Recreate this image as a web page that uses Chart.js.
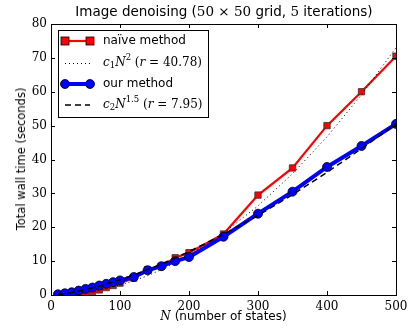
<!DOCTYPE html>
<html>
<head>
<meta charset="utf-8">
<script src="https://cdn.jsdelivr.net/npm/chart.js@4"></script>
<style>
  body { margin: 0; background: #fff; }
  #wrap { position: relative; width: 415px; height: 332px; }
  #chart { position: absolute; left: 0; top: 0; }
  .lbl { position: absolute; font-family: "DejaVu Sans", sans-serif; color: #000; white-space: nowrap; }
  .m { font-family: "DejaVu Serif", serif; }
  .mi { font-family: "DejaVu Serif", serif; font-style: italic; }
  #title { left: 0; width: 448px; top: 3px; text-align: center; font-size: 13.5px; }
  #xlab { left: 51px; width: 345px; top: 309px; text-align: center; font-size: 12px; }
  #ylab { left: 21px; top: 159px; font-size: 11.5px; transform: translate(-50%, -50%) rotate(-90deg); }
</style>
</head>
<body>
<div id="wrap">
  <canvas id="chart" width="415" height="332"></canvas>
  <div id="title" class="lbl">Image denoising (<span class="m">50 × 50</span> grid, <span class="m">5</span> iterations)</div>
  <div id="xlab" class="lbl"><span class="mi">N</span> (number of states)</div>
  <div id="ylab" class="lbl">Total wall time (seconds)</div>
</div>
<script>
// Data
const nStates = [10, 20, 30, 40, 50, 60, 70, 80, 90, 100, 120, 140, 160, 180, 200, 250, 300, 350, 400, 450, 500];
const naiveTimes = [0.05, 0.1, 0.2, 0.4, 0.7, 1.0, 1.5, 2.2, 2.8, 3.5, 5.0, 7.5, 8.5, 11.0, 12.5, 18.0, 29.5, 37.5, 50.0, 60.0, 70.5];
const ourTimes = [0.2, 0.5, 0.8, 1.3, 1.8, 2.2, 2.8, 3.3, 3.8, 4.3, 5.3, 7.3, 8.5, 10.0, 11.2, 17.2, 24.0, 30.5, 37.8, 44.0, 50.5];
// fitted curves c1*N^2 and c2*N^1.5 as drawn
const fitSquare = [0.03, 0.12, 0.26, 0.47, 0.73, 1.05, 1.43, 1.87, 2.37, 2.92, 4.2, 5.7, 7.5, 9.5, 11.7, 18.3, 26.3, 35.8, 46.7, 59.1, 73.0];
const fitPow15 = [0.14, 0.40, 0.74, 1.14, 1.6, 2.1, 2.65, 3.23, 3.86, 4.52, 5.94, 7.49, 9.15, 10.9, 12.8, 17.9, 23.5, 29.6, 36.2, 43.2, 50.5];
const xTicks = [0, 100, 200, 300, 400, 500];
const yTicks = [0, 10, 20, 30, 40, 50, 60, 70, 80];

const pts = ys => nStates.map((n, i) => ({ x: n, y: ys[i] }));

// Draw text made of several runs (for the math bits)
function drawRuns(ctx, x, y, runs) {
    runs.forEach(r => {
        ctx.font = r.font;
        ctx.fillText(r.t, x, y + (r.dy || 0));
        x += ctx.measureText(r.t).width;
    });
}

// inward ticks on all four sides plus the frame, like matplotlib
const framePlugin = {
    id: 'frame',
    afterDraw(chart) {
        const ctx = chart.ctx, a = chart.chartArea;
        const xs = chart.scales.x, ys = chart.scales.y;
        ctx.save();
        ctx.strokeStyle = '#000';
        ctx.lineWidth = 1;
        ctx.beginPath();
        xTicks.forEach(v => {
            const px = Math.round(xs.getPixelForValue(v)) + 0.5;
            ctx.moveTo(px, a.bottom); ctx.lineTo(px, a.bottom - 4);
            ctx.moveTo(px, a.top); ctx.lineTo(px, a.top + 4);
        });
        yTicks.forEach(v => {
            const py = Math.round(ys.getPixelForValue(v)) + 0.5;
            ctx.moveTo(a.left, py); ctx.lineTo(a.left + 4, py);
            ctx.moveTo(a.right, py); ctx.lineTo(a.right - 4, py);
        });
        ctx.stroke();
        ctx.strokeRect(Math.round(a.left) + 0.5, Math.round(a.top) + 0.5,
            Math.round(a.right - a.left), Math.round(a.bottom - a.top));
        ctx.restore();
    }
};

// legend box in the top left corner
const legendPlugin = {
    id: 'mplLegend',
    afterDraw(chart) {
        const ctx = chart.ctx;
        const bx = 58.5, by = 30.5, bw = 150, bh = 87;
        ctx.save();
        ctx.fillStyle = '#fff';
        ctx.fillRect(bx, by, bw, bh);
        ctx.strokeStyle = '#000';
        ctx.lineWidth = 1;
        ctx.strokeRect(bx, by, bw, bh);

        const x0 = 65, x1 = 90, tx = 103;
        const rows = [41, 63, 84, 105];

        // naive
        ctx.strokeStyle = '#ff0000'; ctx.lineWidth = 2.2;
        ctx.beginPath(); ctx.moveTo(x0, rows[0]); ctx.lineTo(x1, rows[0]); ctx.stroke();
        [x0, x1].forEach(px => {
            ctx.fillStyle = '#ff0000'; ctx.fillRect(px - 4, rows[0] - 4, 8, 8);
            ctx.strokeStyle = '#000'; ctx.lineWidth = 0.8; ctx.strokeRect(px - 4, rows[0] - 4, 8, 8);
        });
        // dotted
        ctx.strokeStyle = '#000'; ctx.lineWidth = 1; ctx.setLineDash([1, 3]);
        ctx.beginPath(); ctx.moveTo(x0, rows[1] + 0.5); ctx.lineTo(x1, rows[1] + 0.5); ctx.stroke();
        // ours
        ctx.setLineDash([]);
        ctx.strokeStyle = '#0000ff'; ctx.lineWidth = 4;
        ctx.beginPath(); ctx.moveTo(x0, rows[2]); ctx.lineTo(x1, rows[2]); ctx.stroke();
        [x0, x1].forEach(px => {
            ctx.beginPath(); ctx.arc(px, rows[2], 4.5, 0, Math.PI * 2);
            ctx.fillStyle = '#0000ff'; ctx.fill();
            ctx.strokeStyle = '#000'; ctx.lineWidth = 0.8; ctx.stroke();
        });
        // dashed
        ctx.strokeStyle = '#000'; ctx.lineWidth = 1.5; ctx.setLineDash([6, 4]);
        ctx.beginPath(); ctx.moveTo(x0, rows[3]); ctx.lineTo(x1, rows[3]); ctx.stroke();
        ctx.setLineDash([]);

        ctx.fillStyle = '#000';
        ctx.textBaseline = 'middle';
        const sans = '12px "DejaVu Sans"', it = 'italic 12px "DejaVu Serif"',
              rm = '12px "DejaVu Serif"', sm = '8.5px "DejaVu Serif"';
        drawRuns(ctx, tx, rows[0], [{ t: 'naïve method', font: sans }]);
        drawRuns(ctx, tx, rows[1], [
            { t: 'c', font: it }, { t: '1', font: sm, dy: 3 }, { t: 'N', font: it },
            { t: '2', font: sm, dy: -5 }, { t: ' (', font: rm }, { t: 'r', font: it },
            { t: ' = 40.78)', font: rm }]);
        drawRuns(ctx, tx, rows[2], [{ t: 'our method', font: sans }]);
        drawRuns(ctx, tx, rows[3], [
            { t: 'c', font: it }, { t: '2', font: sm, dy: 3 }, { t: 'N', font: it },
            { t: '1.5', font: sm, dy: -5 }, { t: ' (', font: rm }, { t: 'r', font: it },
            { t: ' = 7.95)', font: rm }]);
        ctx.restore();
    }
};

const tickFont = { family: '"DejaVu Serif", serif', size: 12 };

new Chart(document.getElementById('chart'), {
    type: 'line',
    data: {
        datasets: [
            {
                label: 'naïve method', data: pts(naiveTimes), order: 4,
                borderColor: '#ff0000', borderWidth: 2.2,
                pointStyle: 'rect', pointRadius: 4.5, pointBackgroundColor: '#ff0000',
                pointBorderColor: '#333', pointBorderWidth: 0.8
            },
            {
                label: 'c1 N^2', data: pts(fitSquare), order: 3,
                borderColor: '#000', borderWidth: 1, borderDash: [1, 3], pointRadius: 0
            },
            {
                label: 'our method', data: pts(ourTimes), order: 2,
                borderColor: '#0000ff', borderWidth: 4,
                pointStyle: 'circle', pointRadius: 4.5, pointBackgroundColor: '#0000ff',
                pointBorderColor: '#000', pointBorderWidth: 0.8
            },
            {
                label: 'c2 N^1.5', data: pts(fitPow15), order: 1,
                borderColor: '#000', borderWidth: 1.5, borderDash: [6, 4], pointRadius: 0
            }
        ]
    },
    options: {
        responsive: false,
        animation: false,
        layout: { padding: { left: 0, top: 24, right: 19, bottom: 0 } },
        plugins: { legend: { display: false }, tooltip: { enabled: false } },
        scales: {
            x: {
                type: 'linear', min: 0, max: 500,
                afterFit: s => { s.height = 37; },
                afterBuildTicks: s => { s.ticks = xTicks.map(v => ({ value: v })); },
                grid: { display: false, drawTicks: false },
                border: { display: false },
                ticks: { font: tickFont, color: '#000', padding: 5, maxRotation: 0 }
            },
            y: {
                min: 0, max: 80,
                afterFit: s => { s.width = 51; },
                afterBuildTicks: s => { s.ticks = yTicks.map(v => ({ value: v })); },
                grid: { display: false, drawTicks: false },
                border: { display: false },
                ticks: { font: tickFont, color: '#000', padding: 4 }
            }
        }
    },
    plugins: [framePlugin, legendPlugin]
});
</script>
</body>
</html>
